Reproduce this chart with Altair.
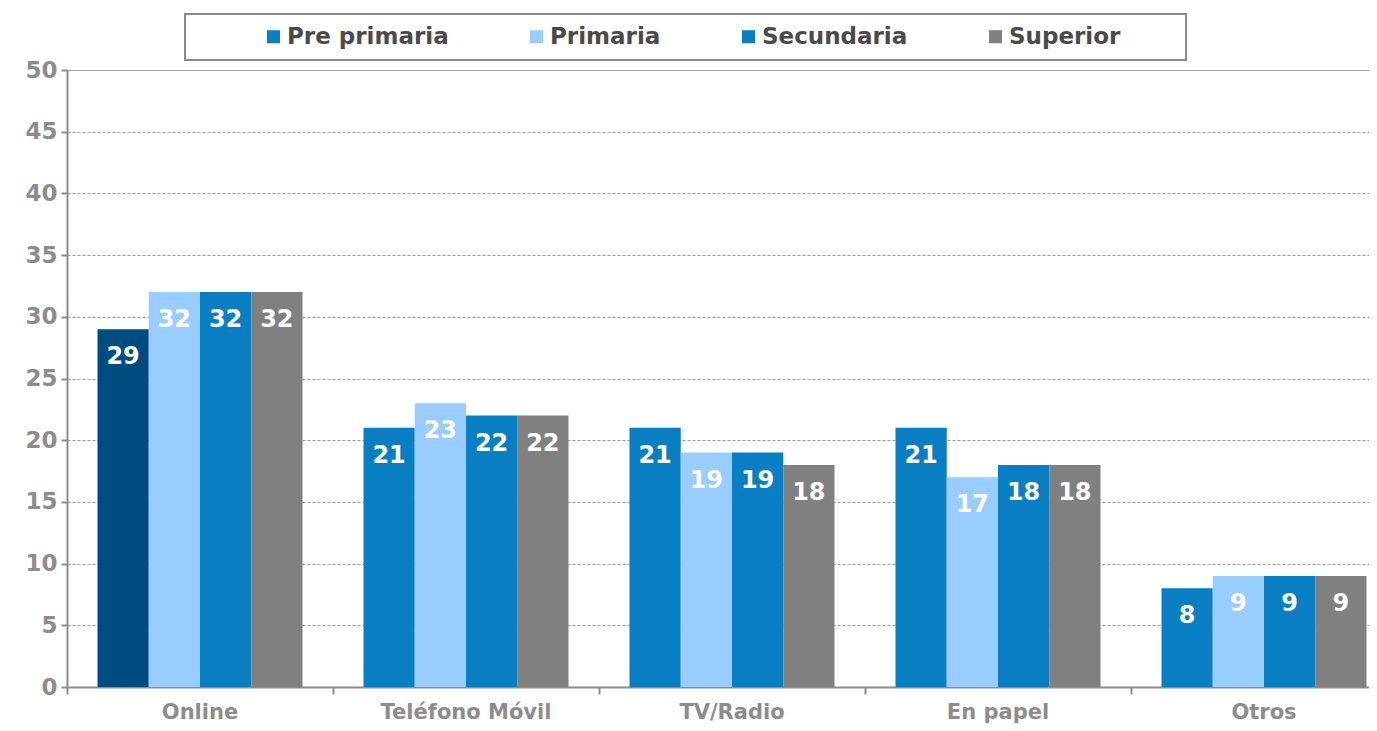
import altair as alt
import pandas as pd

categories = ["Online", "Teléfono Móvil", "TV/Radio", "En papel", "Otros"]
series = ["Pre primaria", "Primaria", "Secundaria", "Superior"]
pre_primaria = [29, 21, 21, 21, 8]
primaria = [32, 23, 19, 17, 9]
secundaria = [32, 22, 19, 18, 9]
superior = [32, 22, 18, 18, 9]
y_ticks = [0, 5, 10, 15, 20, 25, 30, 35, 40, 45, 50]

colors = ["#0A7EC2", "#99CCFF", "#0A7EC2", "#808080"]
highlight = "#004B80"

rows = []
for name, vals in zip(series, [pre_primaria, primaria, secundaria, superior]):
    for c, v in zip(categories, vals):
        rows.append({"Categoria": c, "Nivel": name, "Valor": v})
df = pd.DataFrame(rows)

FONT = "DejaVu Sans"
GRAY = "#8c8c8c"
BLANK = "\u2800"  # blank glyph used only to widen the legend frame on the right

x_enc = alt.X(
    "Categoria:N",
    sort=categories,
    scale=alt.Scale(paddingInner=0, paddingOuter=0, range=[0, 1330]),
    axis=alt.Axis(
        title=None,
        labelAngle=0,
        bandPosition=0,
        tickSize=7,
        labelPadding=7,
        labelFont=FONT,
        labelFontSize=21,
        labelFontWeight="bold",
        labelColor=GRAY,
        labelLimit=400,
        domainColor=GRAY,
        domainWidth=2,
        tickColor=GRAY,
        tickWidth=2,
        grid=False,
        labelOverlap=False,
    ),
)
xo_enc = alt.XOffset(
    "Nivel:N", sort=series, scale=alt.Scale(paddingInner=0, paddingOuter=0.595)
)
y_enc = alt.Y(
    "Valor:Q",
    scale=alt.Scale(domain=[0, 50], nice=False),
    axis=alt.Axis(
        title=None,
        values=y_ticks,
        tickSize=6,
        labelPadding=4,
        labelFont=FONT,
        labelFontSize=23,
        labelFontWeight="bold",
        labelColor=GRAY,
        domainColor=GRAY,
        domainWidth=2,
        tickColor=GRAY,
        tickWidth=2,
        grid=True,
        gridColor="#9a9a9a",
        gridWidth=1,
        gridDash=alt.condition("datum.value == 50", alt.value([]), alt.value([3, 2])),
    ),
)

color_enc = alt.condition(
    "datum.Categoria == 'Online' && datum.Nivel == 'Pre primaria'",
    alt.value(highlight),
    alt.Color(
        "Nivel:N",
        sort=series,
        scale=alt.Scale(domain=series, range=colors),
        legend=alt.Legend(
            title=None,
            orient="none",
            legendX=118,
            legendY=-56,
            direction="horizontal",
            columns=4,
            labelExpr="datum.value == 'Superior' ? datum.label + '" + BLANK * 3 + "' : datum.label",
        ),
    ),
)

bars = alt.Chart(df).mark_bar().encode(
    x=x_enc, xOffset=xo_enc, y=y_enc, color=color_enc
)

labels = alt.Chart(df).mark_text(
    dy=28,
    baseline="middle",
    align="center",
    color="white",
    font=FONT,
    fontWeight="bold",
    fontSize=24,
).encode(
    x=alt.X("Categoria:N", sort=categories),
    xOffset=alt.XOffset("Nivel:N", sort=series),
    y=alt.Y("Valor:Q"),
    text=alt.Text("Valor:Q"),
)

chart = (
    alt.layer(bars, labels)
    .properties(
        width=1302,
        height=617,
        autosize=alt.AutoSizeParams(type="none"),
        padding={"left": 59, "top": 62, "right": 0, "bottom": 36},
    )
    .configure_view(stroke=None)
    .configure_legend(
        strokeColor="#8a8a8a",
        strokeWidth=2,
        padding=11,
        symbolType="square",
        symbolSize=170,
        symbolStrokeWidth=0,
        symbolOffset=66,
        columnPadding=10,
        labelOffset=2,
        labelFont=FONT,
        labelFontSize=23,
        labelFontWeight="bold",
        labelColor="#4a4a4a",
        labelLimit=400,
    )
)

chart.save("out.html", embed_options={"renderer": "svg", "actions": False})
